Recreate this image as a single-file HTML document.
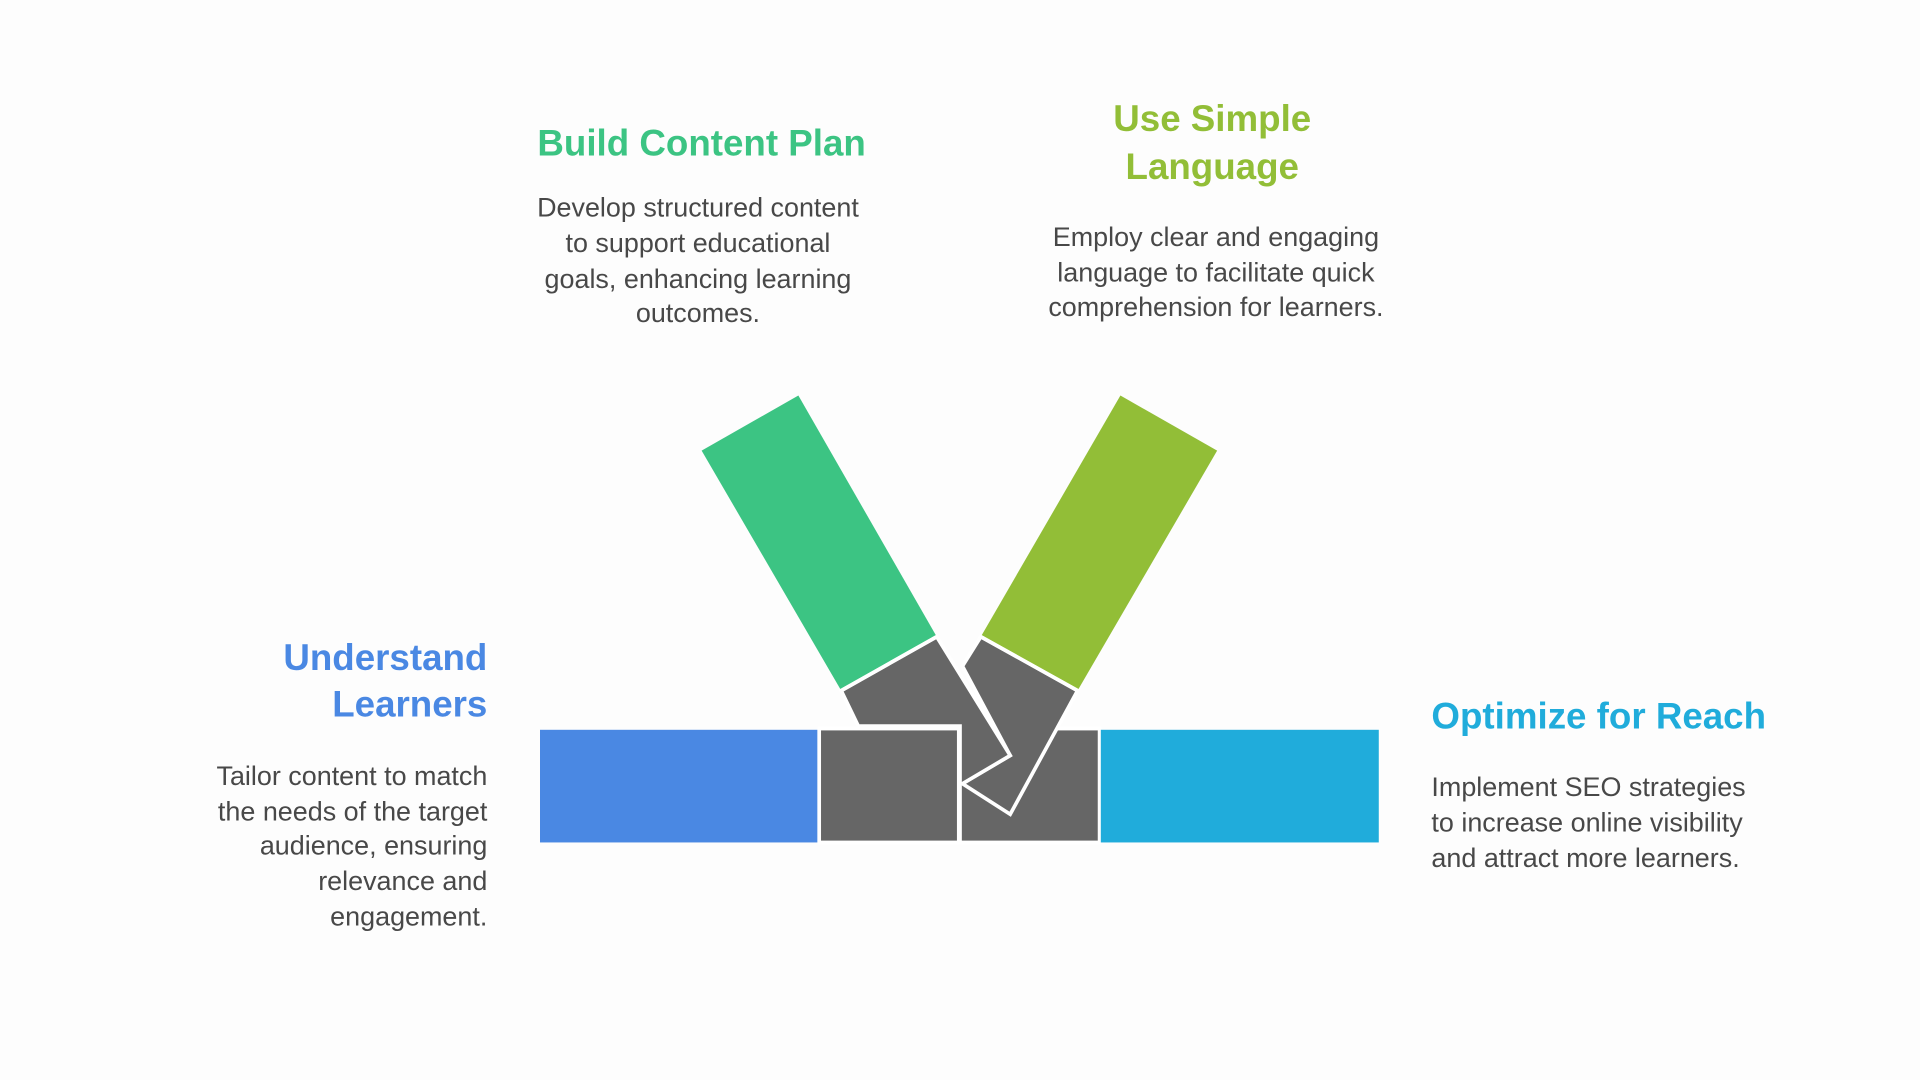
<!DOCTYPE html>
<html><head><meta charset="utf-8"><style>html,body{margin:0;padding:0;background:#fdfdfd;}svg{display:block}</style></head>
<body>
<svg width="1920" height="1080" viewBox="0 0 1568 882" preserveAspectRatio="none" xmlns="http://www.w3.org/2000/svg">
<rect width="1568" height="882" fill="#fdfdfd"/>
<g stroke="#fff" stroke-width="3" stroke-linejoin="miter">
<rect x="441" y="596" width="227" height="92" fill="#4A88E3" stroke="none"/>
<rect x="669" y="595" width="114" height="93" fill="#666666"/>
<rect x="784" y="595" width="114" height="93" fill="#666666"/>
<rect x="899" y="596" width="227" height="92" fill="#20ACDB" stroke="none"/>
<polygon points="652,323 573,368 687,564 765,520" fill="#3CC483" stroke="none"/>
<polygon points="915,323 994,368 880,564 801,520" fill="#92BE37" stroke="none"/>
<polygon points="801,520 880,564 825,665 786,640 825,617 786,544" fill="#666666"/>
<polygon points="687,564 765,520 825,617 786,640 784,640 784,593 701,593" fill="#666666"/>
<line x1="687" y1="564" x2="765" y2="520"/>
<line x1="801" y1="520" x2="880" y2="564"/>
</g>
<g font-family="Liberation Sans, sans-serif">
<g font-weight="bold" font-size="30">
<text x="573" y="127" text-anchor="middle" fill="#3CC483">Build Content Plan</text>
<text x="990" y="107" text-anchor="middle" fill="#92BE37">Use Simple</text>
<text x="990" y="146" text-anchor="middle" fill="#92BE37">Language</text>
<text x="398" y="547" text-anchor="end" fill="#4A88E3">Understand</text>
<text x="398" y="585" text-anchor="end" fill="#4A88E3">Learners</text>
<text x="1169" y="595" fill="#20ACDB">Optimize for Reach</text>
</g>
<g font-size="22" fill="#484848">
<text x="570" y="177" text-anchor="middle">Develop structured content</text>
<text x="570" y="206" text-anchor="middle">to support educational</text>
<text x="570" y="235" text-anchor="middle">goals, enhancing learning</text>
<text x="570" y="263" text-anchor="middle">outcomes.</text>
<text x="993" y="201" text-anchor="middle">Employ clear and engaging</text>
<text x="993" y="230" text-anchor="middle">language to facilitate quick</text>
<text x="993" y="258" text-anchor="middle">comprehension for learners.</text>
<text x="398" y="641" text-anchor="end">Tailor content to match</text>
<text x="398" y="670" text-anchor="end">the needs of the target</text>
<text x="398" y="698" text-anchor="end">audience, ensuring</text>
<text x="398" y="727" text-anchor="end">relevance and</text>
<text x="398" y="756" text-anchor="end">engagement.</text>
<text x="1169" y="650">Implement SEO strategies</text>
<text x="1169" y="679">to increase online visibility</text>
<text x="1169" y="708">and attract more learners.</text>
</g>
</g>
</svg>
</body></html>
